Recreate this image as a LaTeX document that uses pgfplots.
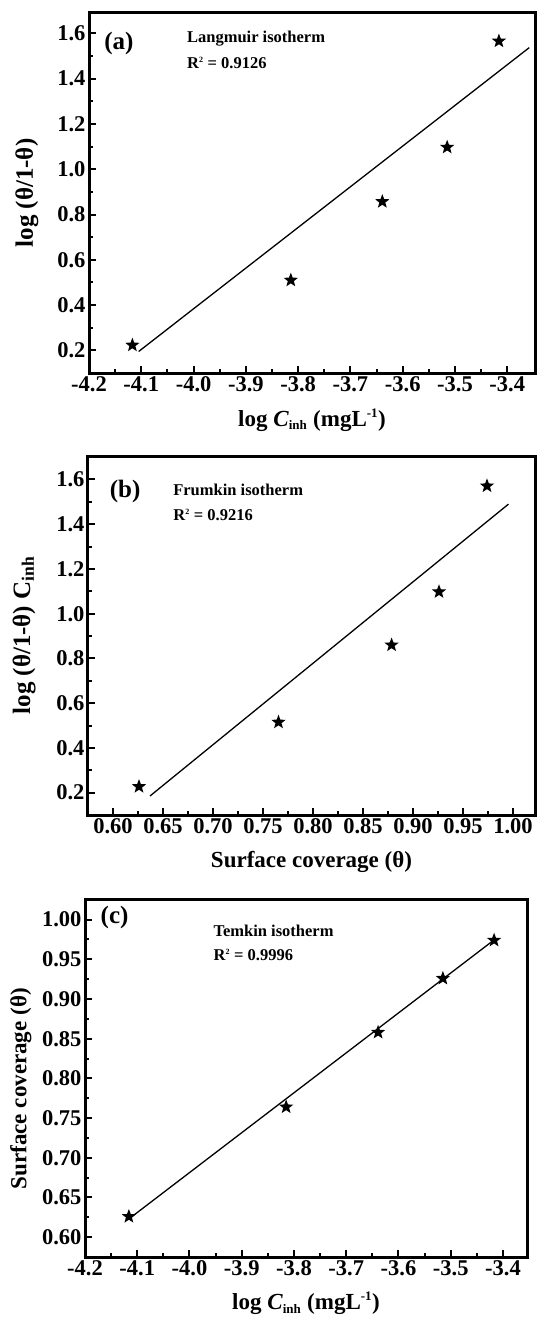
\documentclass[border=0pt]{standalone}
\usepackage{pgfplots}
\pgfplotsset{compat=1.18}
\usepackage{fontspec}
\setmainfont{Liberation Serif}

\pgfdeclareplotmark{fstar}{%
  \pgfpathmoveto{\pgfpointpolar{90}{\pgfplotmarksize}}%
  \pgfpathlineto{\pgfpointpolar{126}{0.42\pgfplotmarksize}}%
  \pgfpathlineto{\pgfpointpolar{162}{\pgfplotmarksize}}%
  \pgfpathlineto{\pgfpointpolar{198}{0.42\pgfplotmarksize}}%
  \pgfpathlineto{\pgfpointpolar{234}{\pgfplotmarksize}}%
  \pgfpathlineto{\pgfpointpolar{270}{0.42\pgfplotmarksize}}%
  \pgfpathlineto{\pgfpointpolar{306}{\pgfplotmarksize}}%
  \pgfpathlineto{\pgfpointpolar{342}{0.42\pgfplotmarksize}}%
  \pgfpathlineto{\pgfpointpolar{18}{\pgfplotmarksize}}%
  \pgfpathlineto{\pgfpointpolar{54}{0.42\pgfplotmarksize}}%
  \pgfpathclose
  \pgfusepathqfill}

\tikzset{
  annot/.style={font=\bfseries\fontsize{16.5}{17}\selectfont, anchor=west},
  panel/.style={font=\bfseries\fontsize{25}{25}\selectfont},
}

\pgfplotsset{iso/.style={
  scale only axis,
  axis line style={line width=3pt, line join=miter},
  tick pos=left, tick align=inside,
  major tick length=7pt, minor tick length=4pt,
  every tick/.append style={line width=2pt, black},
  minor tick num=1,
  tick label style={font=\bfseries\fontsize{22.5}{22.5}\selectfont},
  label style={font=\bfseries\fontsize{23}{24}\selectfont},
  /pgf/number format/assume math mode=true,
  xlabel style={at={(axis description cs:0.5,-0.13)}, anchor=center},
  ylabel style={anchor=center},
}}

\begin{document}
\begin{tikzpicture}
\path[use as bounding box] (0,0) rectangle (536pt,-1319pt);

% (a) Langmuir
\begin{axis}[iso, at={(89pt,-13pt)}, anchor=north west,
  width=446pt, height=360pt,
  xmin=-4.2, xmax=-3.347, ymin=0.1, ymax=1.69,
  xtick={-4.2,-4.1,-4.0,-3.9,-3.8,-3.7,-3.6,-3.5,-3.4},
  ytick={0.2,0.4,0.6,0.8,1.0,1.2,1.4,1.6},
  xticklabel style={/pgf/number format/.cd, fixed, fixed zerofill, precision=1},
  yticklabel style={/pgf/number format/.cd, fixed, fixed zerofill, precision=1},
  xlabel={log \textit{C}\textsubscript{\fontsize{13}{13}\selectfont inh} (mgL\textsuperscript{\fontsize{13}{13}\selectfont -1})},
  ylabel={log (θ/1-θ)},
  ylabel style={at={(axis description cs:-0.139,0.5)}, font=\bfseries\fontsize{25}{26}\selectfont},
]
\addplot[black, line width=1.3pt] coordinates {(-4.105,0.195) (-3.358,1.537)};
\addplot[only marks, mark=fstar, mark size=7.5pt, black] coordinates {
  (-4.117,0.223) (-3.814,0.510) (-3.639,0.857) (-3.515,1.097) (-3.416,1.566)};
\node[panel] at (rel axis cs:0.067,0.915) {(a)};
\node[annot] at (rel axis cs:0.212,0.93) {Langmuir isotherm};
\node[annot] at (rel axis cs:0.212,0.862) {R\textsuperscript{\fontsize{8}{8}\selectfont 2} = 0.9126};
\end{axis}

% (b) Frumkin
\begin{axis}[iso, at={(88pt,-456pt)}, anchor=north west,
  width=447pt, height=359pt,
  xmin=0.575, xmax=1.022, ymin=0.1, ymax=1.705,
  xtick={0.60,0.65,0.70,0.75,0.80,0.85,0.90,0.95,1.00},
  ytick={0.2,0.4,0.6,0.8,1.0,1.2,1.4,1.6},
  xticklabel style={/pgf/number format/.cd, fixed, fixed zerofill, precision=2},
  yticklabel style={/pgf/number format/.cd, fixed, fixed zerofill, precision=1},
  xlabel={Surface coverage (θ)},
  ylabel={log (θ/1-θ) C\textsubscript{inh}},
  ylabel style={at={(axis description cs:-0.143,0.5)}, font=\bfseries\fontsize{25}{26}\selectfont},
]
\addplot[black, line width=1.3pt] coordinates {(0.637,0.185) (0.9955,1.490)};
\addplot[only marks, mark=fstar, mark size=7.5pt, black] coordinates {
  (0.626,0.227) (0.7655,0.515) (0.8786,0.860) (0.926,1.098) (0.974,1.571)};
\node[panel] at (rel axis cs:0.083,0.9) {(b)};
\node[annot] at (rel axis cs:0.183,0.905) {Frumkin isotherm};
\node[annot] at (rel axis cs:0.183,0.835) {R\textsuperscript{\fontsize{8}{8}\selectfont 2} = 0.9216};
\end{axis}

% (c) Temkin
\begin{axis}[iso, at={(85pt,-899pt)}, anchor=north west,
  width=442pt, height=358pt,
  xmin=-4.2, xmax=-3.354, ymin=0.575, ymax=1.026,
  xtick={-4.2,-4.1,-4.0,-3.9,-3.8,-3.7,-3.6,-3.5,-3.4},
  ytick={0.60,0.65,0.70,0.75,0.80,0.85,0.90,0.95,1.00},
  xticklabel style={/pgf/number format/.cd, fixed, fixed zerofill, precision=1},
  yticklabel style={/pgf/number format/.cd, fixed, fixed zerofill, precision=2},
  xlabel={log \textit{C}\textsubscript{\fontsize{13}{13}\selectfont inh} (mgL\textsuperscript{\fontsize{13}{13}\selectfont -1})},
  ylabel={Surface coverage (θ)},
  ylabel style={at={(axis description cs:-0.145,0.47)}},
]
\addplot[black, line width=1.3pt] coordinates {(-4.116,0.623) (-3.414,0.976)};
\addplot[only marks, mark=fstar, mark size=7.5pt, black] coordinates {
  (-4.116,0.626) (-3.815,0.764) (-3.639,0.858) (-3.515,0.926) (-3.417,0.974)};
\node[panel] at (rel axis cs:0.067,0.947) {(c)};
\node[annot] at (rel axis cs:0.283,0.911) {Temkin isotherm};
\node[annot] at (rel axis cs:0.283,0.843) {R\textsuperscript{\fontsize{8}{8}\selectfont 2} = 0.9996};
\end{axis}
\end{tikzpicture}
\end{document}
